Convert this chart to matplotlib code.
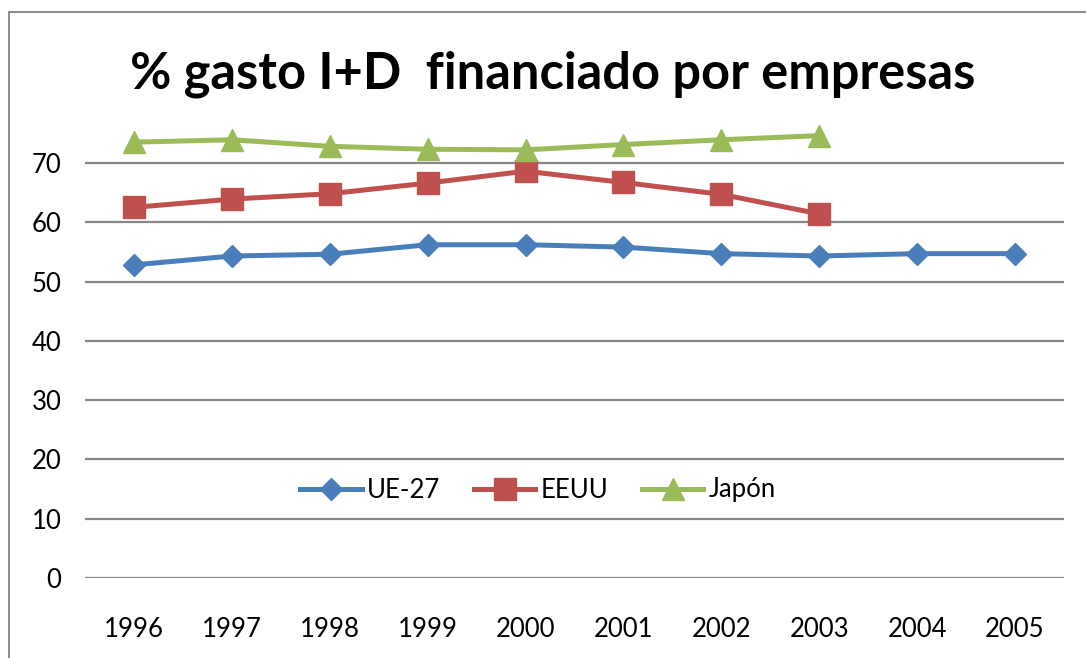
import matplotlib
matplotlib.use("Agg")
import matplotlib.pyplot as plt
from matplotlib.lines import Line2D

years = ["1996", "1997", "1998", "1999", "2000", "2001", "2002", "2003", "2004", "2005"]
ue27 = [52.8, 54.3, 54.6, 56.2, 56.2, 55.8, 54.7, 54.3, 54.7, 54.7]
eeuu = [62.5, 63.9, 64.8, 66.6, 68.6, 66.7, 64.7, 61.4]
japon = [73.5, 73.9, 72.8, 72.3, 72.2, 73.1, 73.9, 74.6]
yticks = [0, 10, 20, 30, 40, 50, 60, 70]
title = "% gasto I+D  financiado por empresas"

plt.rcParams['font.family'] = ['Lato', 'DejaVu Sans']

W, H = 1086, 658
fig = plt.figure(figsize=(W / 100, H / 100), dpi=100)
ax = fig.add_axes([85 / W, 1 - 578 / H, (1064 - 85) / W, (578 - 103.6) / H])

blue, red, green = "#4A7EBB", "#C0504D", "#9BBB59"
x_ue = list(range(len(ue27)))
x_us = list(range(len(eeuu)))
x_jp = list(range(len(japon)))
ax.plot(x_ue, ue27, color=blue, lw=3.6, marker="D", ms=10.8, label="UE-27", solid_joinstyle="round")
ax.plot(x_us, eeuu, color=red, lw=3.6, marker="s", ms=15.5, label="EEUU", solid_joinstyle="round")
ax.plot(x_jp, japon, color=green, lw=3.6, marker="^", ms=16, label="Japón", solid_joinstyle="round")

ax.set_xlim(-0.5, len(years) - 0.5)
ax.set_ylim(0, 80)
ax.set_yticks(yticks)
ax.set_xticks(range(len(years)))
ax.set_xticklabels(years)
ax.yaxis.grid(True, color="#868686", lw=1.6)
ax.set_axisbelow(True)
for s in ax.spines.values():
    s.set_visible(False)
ax.tick_params(axis="both", length=0, labelsize=18.5, colors="black")
ax.tick_params(axis="y", pad=17)
ax.tick_params(axis="x", pad=28)

leg = ax.legend(loc="center", bbox_to_anchor=((538 - 85) / 979, (578 - 490) / 474.4),
                ncol=3, frameon=False, fontsize=18.5, handlelength=2.4,
                columnspacing=1.3, handletextpad=0.2, borderaxespad=0)

t = fig.text(553 / W, 1 - 88 / H, title, ha="center", va="baseline",
             fontsize=33, fontweight="bold", color="black")
fig.canvas.draw()
w = t.get_window_extent().width
t.set_fontsize(33 * 845 / w)

# chart border
fig.add_artist(Line2D([9 / W, 9 / W], [0, 1 - 12 / H], transform=fig.transFigure, color="#8A8A8A", lw=1.4))
fig.add_artist(Line2D([9 / W, 1], [1 - 12 / H, 1 - 12 / H], transform=fig.transFigure, color="#8A8A8A", lw=1.4))

fig.savefig("out.png", dpi=100)
